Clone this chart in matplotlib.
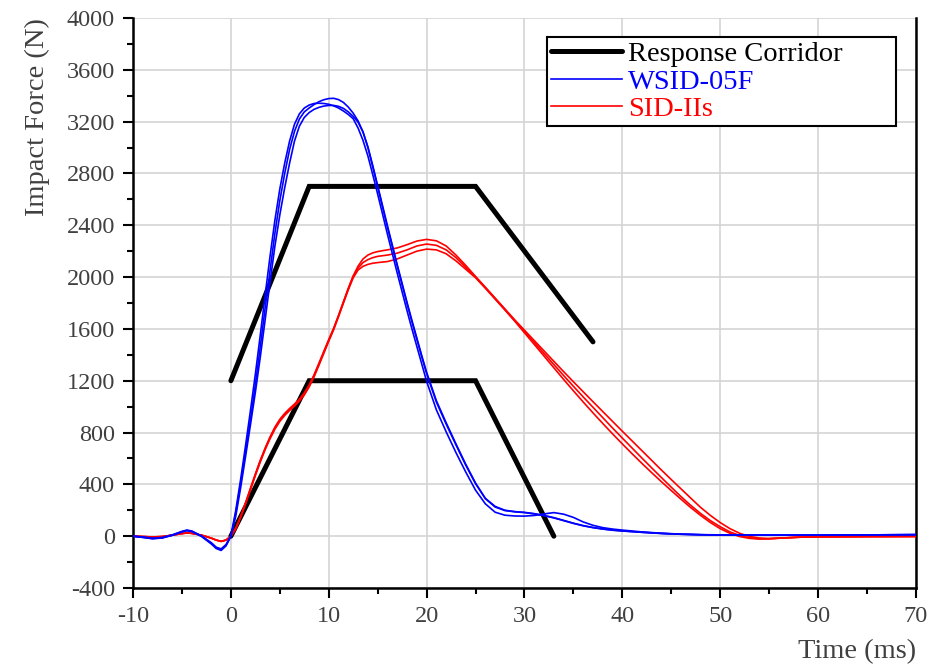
import matplotlib
matplotlib.use("Agg")
import matplotlib.pyplot as plt
from matplotlib.ticker import MultipleLocator

plt.rcParams['font.family'] = ['Liberation Serif', 'DejaVu Serif']
plt.rcParams['axes.unicode_minus'] = False

# response corridor (upper and lower bounds)
corr_up_t = [0, 8, 25, 37]
corr_up_f = [1200, 2700, 2700, 1500]
corr_lo_t = [0, 8, 25, 33]
corr_lo_f = [0, 1200, 1200, 0]

# WSID-05F, three tests
t_wsid = [-10, -9, -8, -7, -6, -5, -4.5, -4, -3, -2, -1.5, -1, -0.5, 0,
          0.5, 1, 1.5, 2, 2.5, 3, 3.5, 4, 4.5, 5,
          5.5, 6, 6.5, 7, 7.5, 8, 8.5, 9, 9.5, 10,
          10.5, 11, 11.5, 12, 12.5, 13, 13.5, 14, 14.5, 15,
          15.5, 16, 16.5, 17, 17.5, 18, 18.5, 19, 19.5, 20,
          21, 22, 23, 24, 25, 26, 27, 28, 29, 30,
          31, 32, 33, 34, 35, 36, 37, 38, 39, 40,
          42, 44, 46, 48, 50, 55, 60, 65, 70]
wsid_1 = [0, -8, -18, -12, 8, 35, 45, 38, 0, -55, -90, -105, -70, 0,
          180, 410, 650, 900, 1170, 1460, 1760, 2050, 2340, 2590,
          2800, 2985, 3125, 3220, 3275, 3305, 3332, 3354, 3369, 3378,
          3380, 3370, 3348, 3312, 3265, 3205, 3120, 3000, 2850, 2695,
          2540, 2385, 2235, 2085, 1940, 1795, 1655, 1520, 1385, 1255,
          1035, 865, 705, 548, 405, 290, 225, 198, 188, 182,
          172, 158, 141, 120, 99, 80, 66, 55, 46, 40,
          30, 21, 15, 11, 9, 8, 8, 10, 12]
wsid_2 = [0, -10, -20, -14, 6, 33, 42, 36, -2, -60, -95, -110, -75, 0,
          200, 440, 700, 970, 1250, 1550, 1860, 2160, 2440, 2680,
          2880, 3050, 3180, 3260, 3305, 3328, 3340, 3342, 3340, 3334,
          3322, 3305, 3282, 3255, 3222, 3150, 3055, 2935, 2790, 2640,
          2485, 2330, 2180, 2030, 1885, 1740, 1600, 1465, 1330, 1195,
          975, 805, 645, 495, 355, 250, 185, 162, 156, 155,
          160, 172, 182, 170, 145, 110, 84, 66, 55, 47,
          33, 23, 16, 12, 10, 8, 8, 10, 12]
wsid_3 = [0, -6, -16, -10, 10, 37, 47, 40, 2, -50, -85, -98, -65, 0,
          155, 375, 615, 860, 1110, 1380, 1670, 1960, 2240, 2480,
          2690, 2880, 3050, 3165, 3232, 3270, 3295, 3310, 3320, 3325,
          3325, 3318, 3302, 3275, 3240, 3195, 3120, 3005, 2860, 2705,
          2550, 2395, 2245, 2095, 1950, 1805, 1665, 1530, 1395, 1265,
          1045, 875, 712, 555, 410, 292, 230, 200, 190, 184,
          174, 160, 143, 122, 100, 82, 67, 56, 47, 41,
          30, 21, 15, 11, 9, 8, 8, 10, 12]

# SID-IIs, three tests
t_sid = [-10, -9, -8, -7, -6, -5, -4.5, -4, -3, -2, -1.5, -1, -0.5, 0,
         0.5, 1, 1.5, 2, 2.5, 3, 3.5, 4, 4.5, 5,
         5.5, 6, 6.5, 7, 7.5, 8, 8.5, 9, 9.5, 10,
         10.5, 11, 11.5, 12, 12.5, 13, 13.5, 14, 14.5, 15,
         15.5, 16,
         17, 18, 19, 20, 21, 22, 23, 24, 25, 26,
         27, 28, 29, 30, 31, 32, 33, 34, 35, 36,
         37, 38, 39, 40, 41, 42, 43, 44, 45, 46,
         47, 48, 49, 50, 51, 52, 53, 54, 55, 56,
         58, 60, 65, 70]
sid_1 = [0, -3, -6, -3, 8, 20, 25, 22, 8, -15, -30, -40, -30, 0,
         60, 152, 258, 370, 480, 585, 680, 766, 842, 902,
         948, 986, 1020, 1058, 1106, 1168, 1246, 1336, 1428, 1518,
         1606, 1705, 1810, 1915, 2010, 2085, 2140, 2170, 2187, 2197,
         2204, 2210,
         2225, 2250, 2278, 2291, 2280, 2240, 2170, 2090, 2005, 1922,
         1838, 1754, 1670, 1590, 1510, 1430, 1350, 1270, 1192, 1115,
         1038, 962, 886, 810, 735, 660, 585, 510, 437, 365,
         293, 222, 160, 105, 58, 22, -2, -14, -18, -15,
         -8, -5, -3, -2]
sid_2 = [0, -3, -6, -3, 8, 20, 25, 22, 8, -15, -30, -40, -30, 0,
         60, 150, 255, 365, 475, 580, 675, 760, 835, 895,
         940, 978, 1012, 1050, 1098, 1160, 1238, 1328, 1420, 1512,
         1600, 1700, 1805, 1910, 2005, 2070, 2112, 2135, 2150, 2160,
         2165, 2170,
         2185, 2210, 2240, 2255, 2245, 2210, 2150, 2075, 2000, 1918,
         1834, 1750, 1665, 1580, 1495, 1410, 1325, 1240, 1157, 1075,
         995, 915, 835, 757, 680, 603, 527, 452, 378, 305,
         237, 175, 120, 73, 33, 5, -12, -20, -20, -16,
         -8, -5, -3, -2]
sid_3 = [0, -3, -6, -3, 8, 20, 25, 22, 8, -15, -30, -40, -30, 0,
         58, 146, 250, 358, 468, 572, 668, 752, 826, 886,
         932, 970, 1004, 1042, 1090, 1152, 1230, 1320, 1412, 1505,
         1594, 1695, 1800, 1902, 1995, 2055, 2083, 2098, 2107, 2112,
         2116, 2120,
         2140, 2170, 2200, 2216, 2210, 2180, 2125, 2060, 1995, 1914,
         1830, 1746, 1660, 1570, 1480, 1390, 1300, 1210, 1122, 1036,
         952, 870, 790, 712, 636, 562, 490, 420, 352, 285,
         220, 160, 105, 58, 22, -3, -17, -22, -20, -15,
         -8, -5, -3, -2]

fig = plt.figure(figsize=(9.44, 6.66), dpi=100)
ax = fig.add_axes([0.1409, 0.1171, 0.8294, 0.8559])

ax.plot(corr_up_t, corr_up_f, color='black', lw=3.6, solid_capstyle='round',
        solid_joinstyle='miter', label='Response Corridor', zorder=3)
ax.plot(corr_lo_t, corr_lo_f, color='black', lw=3.6, solid_capstyle='round',
        solid_joinstyle='miter', zorder=3)

for i, f in enumerate([sid_1, sid_2, sid_3]):
    ax.plot(t_sid, f, color='#ff0000', lw=1.2, zorder=4,
            label='SID-IIs' if i == 0 else None)
for i, f in enumerate([wsid_1, wsid_2, wsid_3]):
    ax.plot(t_wsid, f, color='#0000ff', lw=1.2, zorder=5,
            label='WSID-05F' if i == 0 else None)

ax.set_xlim(-10, 70)
ax.set_ylim(-400, 4000)
ax.xaxis.set_major_locator(MultipleLocator(10))
ax.xaxis.set_minor_locator(MultipleLocator(5))
ax.yaxis.set_major_locator(MultipleLocator(400))
ax.yaxis.set_minor_locator(MultipleLocator(200))
ax.grid(True, which='major', color='#d4d4d4', lw=1.2)
ax.set_axisbelow(True)

for side in ['left', 'bottom', 'right']:
    ax.spines[side].set_linewidth(1.8)
    ax.spines[side].set_color('black')
ax.spines['top'].set_visible(False)

ax.tick_params(which='major', direction='out', length=7, width=1.5,
               labelsize=17.5, labelcolor='#404040', pad=6)
ax.tick_params(which='minor', direction='out', length=4, width=1.5)
ax.tick_params(top=False, right=False, which='both')

ax.set_xlabel('Time (ms)', fontsize=20.5, color='#404040', loc='right', labelpad=9)
ax.set_ylabel('Impact Force (N)', fontsize=20.5, color='#404040', loc='top', labelpad=12)

handles, labels = ax.get_legend_handles_labels()
order = [labels.index(n) for n in ['Response Corridor', 'WSID-05F', 'SID-IIs']]
leg = ax.legend([handles[k] for k in order], [labels[k] for k in order],
                loc='upper left', bbox_to_anchor=(0.5287, 0.80, 0.4457, 0.1667),
                mode='expand',
                fontsize=20.5, frameon=True, fancybox=False, shadow=False,
                edgecolor='black', framealpha=1, borderaxespad=0,
                handlelength=2.5, handletextpad=0.2, labelspacing=0.05,
                borderpad=0.15)
leg.get_frame().set_linewidth(1.5)
for txt, col in zip(leg.get_texts(), ['black', '#0000ff', '#ff0000']):
    txt.set_color(col)

fig.savefig('out.png', dpi=100)
